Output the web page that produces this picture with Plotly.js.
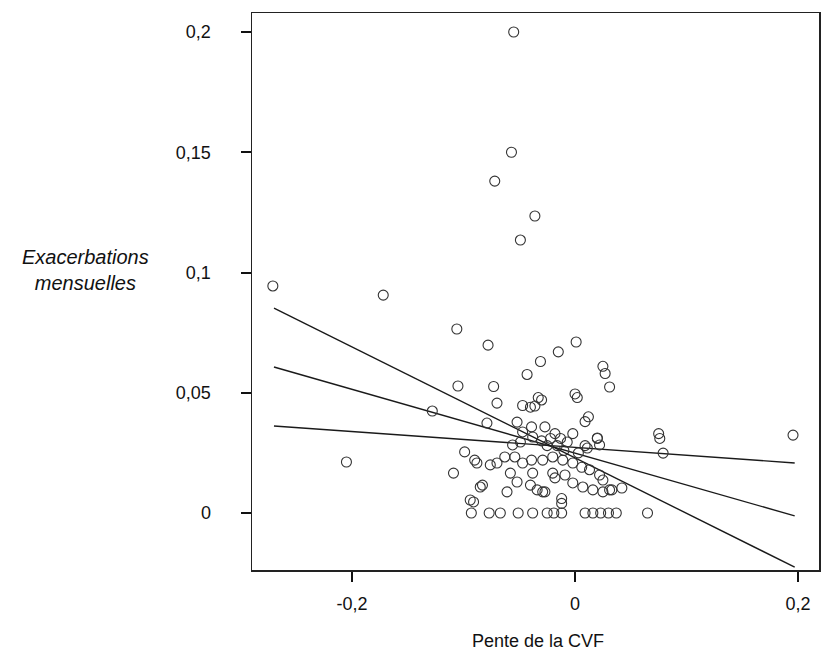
<!DOCTYPE html>
<html>
<head>
<meta charset="utf-8">
<script src="https://cdn.plot.ly/plotly-3.0.1.min.js"></script>
<style>html,body{margin:0;padding:0;background:#fff;}#chart{width:822px;height:660px;}</style>
</head>
<body>
<div id="chart"></div>
<script>
// Scatter points: pente de la CVF (x) vs exacerbations mensuelles (y)
const pointsX = [
  -0.055, -0.057, -0.072, -0.036, -0.049,
  -0.271, -0.172, -0.106, -0.078,
  0.001, -0.015, -0.031, -0.043, 0.025, 0.027, 0.031,
  -0.105, -0.073, -0.070, -0.047, -0.040, -0.036, -0.033, -0.030,
  0.000, 0.002, 0.012, 0.009,
  -0.128, -0.205, 0.1955,
  0.075, 0.076, 0.079,
  -0.079, -0.052, -0.047, -0.039, -0.038, -0.049, -0.056,
  -0.027, -0.022, -0.013, -0.007, -0.002, 0.009, 0.020, 0.022, -0.025, -0.018, -0.010, 0.003,
  -0.099, -0.090, -0.088, -0.076, -0.070, -0.063, -0.054, -0.047, -0.039, -0.038, -0.058, -0.052, -0.083, -0.061, -0.091, -0.040, -0.034, -0.109, -0.085, -0.094,
  -0.029, -0.020, -0.011, -0.002, 0.006, 0.013, 0.022, -0.020, -0.009, -0.002, 0.007, 0.016, 0.025, -0.027, -0.012, -0.012, -0.018, -0.029,
  0.025, 0.031, 0.042, 0.033, 0.011, 0.020, -0.030, -0.016,
  -0.093, -0.077, -0.067, -0.051, -0.038, -0.025, -0.019, -0.012, 0.009, 0.016, 0.023, 0.030, 0.037, 0.065
];
const pointsY = [
  0.200, 0.150, 0.138, 0.1235, 0.1135,
  0.0944, 0.0906, 0.0765, 0.0698,
  0.0711, 0.067, 0.063, 0.0576, 0.061, 0.058, 0.0524,
  0.0528, 0.0526, 0.0457, 0.0447, 0.044, 0.0445, 0.048, 0.047,
  0.0495, 0.048, 0.040, 0.038,
  0.0424, 0.0212, 0.0324,
  0.033, 0.031, 0.0249,
  0.0374, 0.0378, 0.0337, 0.0358, 0.0316, 0.0295, 0.0283,
  0.0358, 0.031, 0.031, 0.0295, 0.033, 0.028, 0.0312, 0.0283, 0.028, 0.033, 0.026, 0.025,
  0.0254, 0.022, 0.0208, 0.020, 0.0208, 0.0233, 0.0233, 0.0208, 0.022, 0.0166, 0.0166, 0.0129, 0.0116, 0.0088, 0.0046, 0.0116, 0.0096, 0.0166, 0.0108, 0.0054,
  0.022, 0.0233, 0.022, 0.0208, 0.019, 0.018, 0.0158, 0.0166, 0.0158, 0.0125, 0.0108, 0.0096, 0.0088, 0.0088, 0.006, 0.004, 0.0146, 0.0088,
  0.0137, 0.0096, 0.0104, 0.0096, 0.027, 0.031, 0.030, 0.028,
  0, 0, 0, 0, 0, 0, 0, 0, 0, 0, 0, 0, 0, 0
];
// Three fitted lines (endpoints)
const lineX = [-0.270, 0.197];
const lineSteepY = [0.0852, -0.0225];
const lineMidY = [0.0607, -0.0012];
const lineFlatY = [0.0362, 0.0208];

const xTickVals = [-0.2, 0, 0.2];
const xTickText = ['-0,2', '0', '0,2'];
const yTickVals = [0, 0.05, 0.1, 0.15, 0.2];
const yTickText = ['0', '0,05', '0,1', '0,15', '0,2'];

const lineStyle = {color: '#1a1a1a', width: 1.4};
const traces = [
  {x: lineX, y: lineSteepY, mode: 'lines', line: lineStyle, hoverinfo: 'skip'},
  {x: lineX, y: lineMidY, mode: 'lines', line: lineStyle, hoverinfo: 'skip'},
  {x: lineX, y: lineFlatY, mode: 'lines', line: lineStyle, hoverinfo: 'skip'},
  {x: pointsX, y: pointsY, mode: 'markers', type: 'scatter',
   marker: {symbol: 'circle-open', size: 10, color: '#333', line: {width: 1.1, color: '#333'}}}
];

const fam = 'Liberation Sans, Arial, sans-serif';
const layout = {
  width: 822, height: 660,
  margin: {l: 252, r: 3, t: 13, b: 90},
  paper_bgcolor: '#fff', plot_bgcolor: '#fff',
  showlegend: false,
  font: {family: fam, size: 18, color: '#111'},
  xaxis: {
    range: [-0.2897, 0.2188],
    tickvals: xTickVals, ticktext: xTickText,
    ticks: 'outside', ticklen: 10, tickwidth: 2, tickcolor: '#111',
    showline: true, linecolor: '#222', linewidth: 1.5, mirror: true,
    showgrid: false, zeroline: false,
    ticklabelstandoff: 7,
    tickfont: {family: fam, size: 18, color: '#111'}
  },
  yaxis: {
    range: [-0.0237, 0.2079],
    tickvals: yTickVals, ticktext: yTickText,
    ticks: 'outside', ticklen: 10, tickwidth: 2, tickcolor: '#111',
    showline: true, linecolor: '#222', linewidth: 1.5, mirror: true,
    showgrid: false, zeroline: false,
    ticklabelstandoff: 26,
    tickfont: {family: fam, size: 18, color: '#111'}
  },
  annotations: [
    {xref: 'paper', yref: 'paper', x: -0.2928, y: 0.5386, xanchor: 'center', yanchor: 'middle',
     showarrow: false, align: 'center',
     text: '<i>Exacerbations<br>mensuelles</i>',
     font: {family: fam, size: 20, color: '#111'}},
    {xref: 'paper', yref: 'paper', x: 0.505, y: -0.1275, xanchor: 'center', yanchor: 'middle',
     showarrow: false, text: 'Pente de la CVF',
     font: {family: fam, size: 18, color: '#111'}}
  ]
};
Plotly.newPlot('chart', traces, layout, {displayModeBar: false, staticPlot: true});
</script>
</body>
</html>
